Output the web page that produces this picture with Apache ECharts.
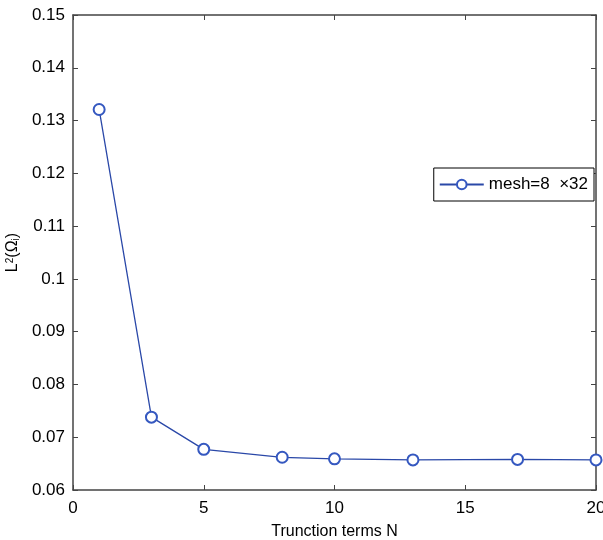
<!DOCTYPE html>
<html>
<head>
<meta charset="utf-8">
<script src="https://cdn.jsdelivr.net/npm/echarts@6/dist/echarts.min.js"></script>
<style>
  html, body { margin: 0; padding: 0; background: #fff; }
  #main { width: 603px; height: 540px; }
</style>
</head>
<body>
<div id="main"></div>
<script>
// 截断项数 N 与 L2 误差
const nTerms = [1, 3, 5, 8, 10, 13, 17, 20];
const errL2 = [0.1321, 0.0738, 0.0677, 0.0662, 0.0659, 0.0657, 0.0658, 0.0657];
const seriesName = 'mesh=8  \u00D732';

const chart = echarts.init(document.getElementById('main'));
const font = 'Liberation Sans, Arial, sans-serif';
const axisColor = '#444';

// 坐标轴通用样式（MATLAB 风格，刻度朝内）
function baseAxis(extra) {
  return Object.assign({
    type: 'value',
    axisLine: { show: true, onZero: false, lineStyle: { color: axisColor, width: 1.5 } },
    axisTick: { show: true, inside: true, length: 5, lineStyle: { color: axisColor } },
    splitLine: { show: false },
    axisLabel: { color: '#000', fontSize: 17, fontFamily: font }
  }, extra);
}

const option = {
  backgroundColor: '#fff',
  animation: false,
  grid: { left: 73, right: 7, top: 15, bottom: 50, containLabel: false, outerBoundsMode: 'none' },
  legend: {
    right: 9,
    top: 168,
    orient: 'vertical',
    itemWidth: 44,
    itemHeight: 12,
    itemGap: 0,
    padding: [8, 6, 8, 5],
    borderColor: '#000',
    borderWidth: 1,
    backgroundColor: '#fff',
    textStyle: { fontSize: 17, fontFamily: font, color: '#000' },
    data: [seriesName]
  },
  xAxis: [
    baseAxis({
      min: 0, max: 20, interval: 5,
      name: 'Trunction terms N',
      nameLocation: 'middle',
      nameGap: 34,
      nameTextStyle: { fontSize: 16, fontFamily: font, color: '#000' },
      axisLabel: { color: '#000', fontSize: 17, fontFamily: font, margin: 10 }
    }),
    baseAxis({
      min: 0, max: 20, interval: 5, position: 'top',
      axisLabel: { show: false }
    })
  ],
  yAxis: [
    baseAxis({
      min: 0.06, max: 0.15, interval: 0.01,
      name: 'L{sup|2}(\u03A9{sub|i})',
      nameLocation: 'middle',
      nameGap: 50,
      nameRotate: 90,
      nameTextStyle: {
        fontSize: 16, fontFamily: font, color: '#000',
        rich: {
          sup: { fontSize: 10, verticalAlign: 'top', lineHeight: 10, padding: [0, 0, 6, 0] },
          sub: { fontSize: 10, verticalAlign: 'bottom', lineHeight: 10, padding: [8, 0, 0, 0] }
        }
      },
      axisLabel: {
        color: '#000', fontSize: 17, fontFamily: font, margin: 8,
        formatter: v => String(+v.toFixed(2))
      }
    }),
    baseAxis({
      min: 0.06, max: 0.15, interval: 0.01, position: 'right',
      axisLabel: { show: false }
    })
  ],
  series: [{
    name: seriesName,
    type: 'line',
    xAxisIndex: 0,
    yAxisIndex: 0,
    data: nTerms.map((n, i) => [n, errL2[i]]),
    symbol: 'emptyCircle',
    symbolSize: 11,
    lineStyle: { color: '#2a48a8', width: 1.3 },
    itemStyle: { color: '#3558c0', borderColor: '#3558c0', borderWidth: 1.3 }
  }]
};

chart.setOption(option);
</script>
</body>
</html>
